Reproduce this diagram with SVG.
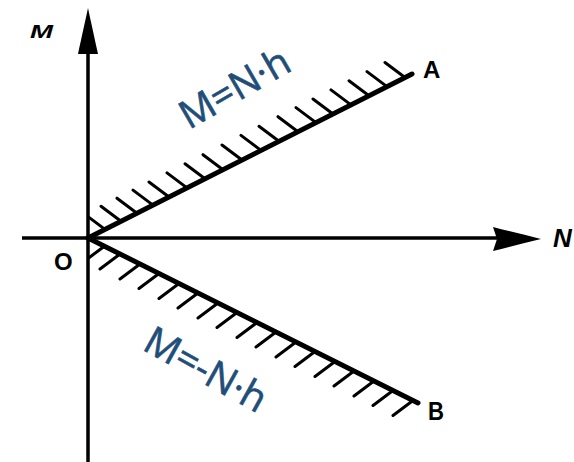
<svg xmlns="http://www.w3.org/2000/svg" width="574" height="462" viewBox="0 0 574 462">
<style>
.axis{stroke:#000;stroke-width:3.5;fill:none}
.bound{stroke:#000;stroke-width:5;fill:none;stroke-linecap:round}
.hatch{stroke:#000;stroke-width:3;fill:none;stroke-linecap:round}
.head{fill:#000;stroke:none}
.lbl{font-family:"Liberation Sans",Arial,sans-serif;font-weight:bold;fill:#000}
.eq{font-family:"Open Sans","Noto Sans",sans-serif;font-size:39px;fill:#1F4E79;stroke:#1F4E79;stroke-width:0.6}
</style>
<rect width="574" height="462" fill="#fff"/>
<g id="connectors">
  <line class="axis" x1="88" y1="462" x2="88" y2="50"/>
  <path class="head" d="M88,8 C91,22 95,40 98,54 L78,54 C81,40 85,22 88,8 Z"/>
  <line class="axis" x1="22" y1="238" x2="500" y2="238"/>
  <path class="head" d="M541,239 C525,243 508,247 493,251 L497,239 L493,227 C508,231 525,235 541,239 Z"/>
</g>
<g id="lineA">
  <line class="bound" x1="88" y1="238" x2="412" y2="74"/>
  <path class="hatch" d="M105,229.4 L89,217.4 M121,221.3 l-20,-15 M137,213.2 l-20,-15 M153,205.1 l-20,-15 M169,197 l-20,-15 M187,187.9 l-20,-15 M205,178.8 l-20,-15 M223,169.7 l-20,-15 M242,160 l-20,-15 M261,150.4 l-20,-15 M279,141.3 l-20,-15 M298,131.7 l-20,-15 M316,122.6 l-20,-15 M333,114 l-20,-15 M351,104.9 l-20,-15 M369,95.8 l-20,-15 M387,86.6 l-20,-15 M405,77.5 l-20,-15"/>
</g>
<g id="lineB">
  <line class="bound" x1="88" y1="238" x2="418" y2="403"/>
  <path class="hatch" d="M104.4,246.2 L89,257.7 M120,254 l-20,15 M140,264 l-20,15 M159,273.5 l-20,15 M179,283.5 l-20,15 M198,293 l-20,15 M218,303 l-20,15 M237,312.5 l-20,15 M257,322.5 l-20,15 M276,332 l-20,15 M296,342 l-20,15 M315,351.5 l-20,15 M335,361.5 l-20,15 M354,371 l-20,15 M374,381 l-20,15 M393,390.5 l-20,15 M413,400.5 l-20,15"/>
</g>
<g id="labels">
  <text class="lbl" x="30" y="38" font-size="19" font-style="italic" textLength="23" lengthAdjust="spacingAndGlyphs">M</text>
  <text class="lbl" x="553" y="247" font-size="26" font-style="italic">N</text>
  <text class="lbl" x="54" y="270" font-size="24">O</text>
  <text class="lbl" x="423" y="78" font-size="24">A</text>
  <text class="lbl" x="428" y="420" font-size="25" textLength="16" lengthAdjust="spacingAndGlyphs">B</text>
</g>
<g id="eqA">
  <text class="eq" transform="translate(189,130) rotate(-30)">M=N·h</text>
</g>
<g id="eqB">
  <text class="eq" transform="translate(141,349) rotate(29)">M=-N·h</text>
</g>
</svg>
